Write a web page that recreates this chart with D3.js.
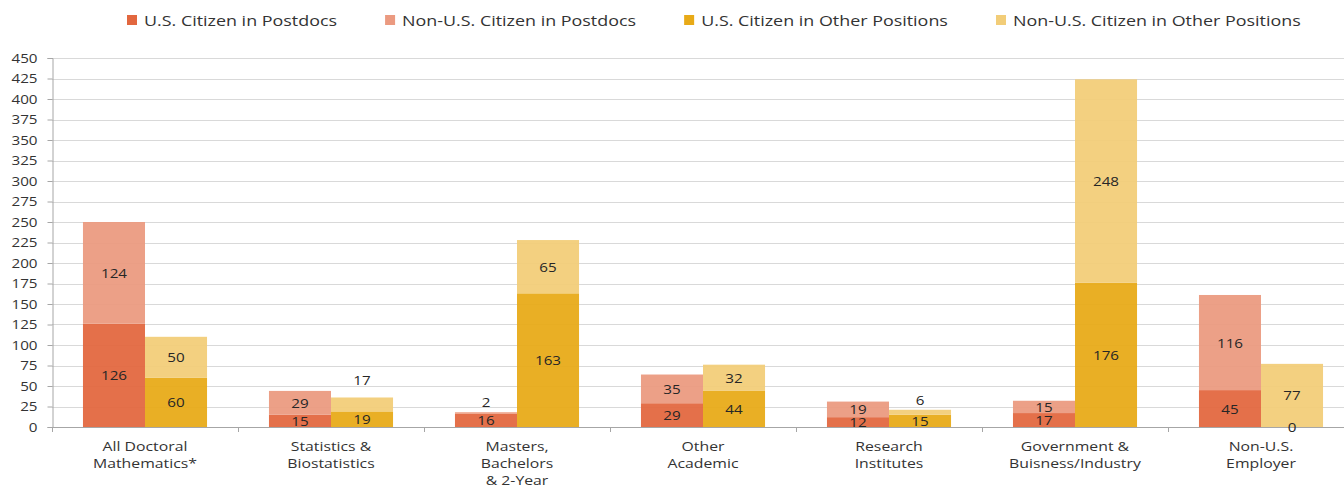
<!DOCTYPE html>
<html>
<head>
<meta charset="utf-8">
<script src="https://cdn.jsdelivr.net/npm/d3@7"></script>
<style>
  body { margin: 0; background: #fff; }
  svg { font-family: "Open Sans", "Noto Sans", sans-serif; }
</style>
</head>
<body>
<svg id="chart" width="1344" height="486"></svg>
<script>
// categories (multi-line labels)
const categories = [
  ['All Doctoral', 'Mathematics*'],
  ['Statistics &', 'Biostatistics'],
  ['Masters,', 'Bachelors', '& 2-Year'],
  ['Other', 'Academic'],
  ['Research', 'Institutes'],
  ['Government &', 'Buisness/Industry'],
  ['Non-U.S.', 'Employer']
]

const usPostdoc = [126, 15, 16, 29, 12, 17, 45]
const nonUsPostdoc = [124, 29, 2, 35, 19, 15, 116]
const usOther = [60, 19, 163, 44, 15, 176, 0]
const nonUsOther = [50, 17, 65, 32, 6, 248, 77]

const seriesNames = [
  'U.S. Citizen in Postdocs',
  'Non-U.S. Citizen in Postdocs',
  'U.S. Citizen in Other Positions',
  'Non-U.S. Citizen in Other Positions'
]
const colors = ['#E2673F', '#EB9A80', '#E8AA17', '#F2CD78']

const yTicks = d3.range(0, 451, 25)

const svg = d3.select('#chart')
const margin = { left: 52, right: -10, top: 58, bottom: 59 }
const W = 1344, H = 486
// the original picture is a bit wider than tall, text included
const STRETCH = 1.17

// widen a text horizontally around its own anchor point
function stretch (sel) {
  sel.each(function () {
    const t = d3.select(this)
    const tx = +t.attr('x') || 0
    const ty = +t.attr('y') || 0
    t.attr('transform', `translate(${tx},${ty}) scale(${STRETCH},1) translate(${-tx},${-ty})`)
  })
}

const x = d3.scaleBand()
  .domain(d3.range(categories.length))
  .range([margin.left, W - margin.right])
  .paddingInner(0.333)
  .paddingOuter(0.1665)

const xStep = d3.scaleBand()
  .domain(d3.range(categories.length))
  .range([margin.left, W - margin.right])

const y = d3.scaleLinear().domain([0, 450]).range([H - margin.bottom, margin.top])

// gridlines
svg.append('g')
  .selectAll('line')
  .data(yTicks.filter(d => d > 0))
  .join('line')
  .attr('x1', margin.left)
  .attr('x2', W)
  .attr('y1', d => Math.round(y(d)) + 0.5)
  .attr('y2', d => Math.round(y(d)) + 0.5)
  .attr('stroke', '#d9d9d9')

// y axis
const yAxis = svg.append('g')
  .attr('transform', `translate(${margin.left + 0.5},0)`)
  .call(d3.axisLeft(y).tickValues(yTicks).tickSize(5).tickPadding(10))
yAxis.select('.domain').attr('stroke', '#a6a6a6')
yAxis.selectAll('.tick line').attr('stroke', '#a6a6a6')
yAxis.selectAll('.tick text')
  .attr('font-size', 13)
  .attr('fill', '#333')
  .attr('font-family', '"Open Sans", sans-serif')
  .attr('transform', function () {
    const tx = +d3.select(this).attr('x')
    return `translate(${tx},0) scale(${STRETCH},1) translate(${-tx},0)`
  })

// stacks
const stacks = [
  { offsetIdx: 0, parts: [usPostdoc, nonUsPostdoc], colorIdx: [0, 1] },
  { offsetIdx: 1, parts: [usOther, nonUsOther], colorIdx: [2, 3] }
]

const bw = x.bandwidth() / 2
const segs = []
stacks.forEach(s => {
  categories.forEach((c, i) => {
    let base = 0
    s.parts.forEach((arr, k) => {
      segs.push({
        cat: i,
        side: s.offsetIdx,
        y0: base,
        y1: base + arr[i],
        v: arr[i],
        color: colors[s.colorIdx[k]],
        top: k === s.parts.length - 1,
        series: s.colorIdx[k]
      })
      base += arr[i]
    })
  })
})

svg.append('g')
  .selectAll('rect')
  .data(segs)
  .join('rect')
  .attr('x', d => x(d.cat) + d.side * bw)
  .attr('width', bw)
  .attr('y', d => y(d.y1))
  .attr('height', d => y(d.y0) - y(d.y1))
  .attr('fill', d => d.color)
  .attr('fill-opacity', 0.94)

// x axis
svg.append('line')
  .attr('x1', margin.left)
  .attr('x2', W)
  .attr('y1', y(0) + 0.5)
  .attr('y2', y(0) + 0.5)
  .attr('stroke', '#a6a6a6')

svg.append('g')
  .selectAll('line')
  .data(d3.range(categories.length + 1))
  .join('line')
  .attr('x1', d => Math.round(margin.left + d * xStep.step()) + 0.5)
  .attr('x2', d => Math.round(margin.left + d * xStep.step()) + 0.5)
  .attr('y1', y(0))
  .attr('y2', y(0) + 5)
  .attr('stroke', '#a6a6a6')

// category labels
const catText = svg.append('g')
  .selectAll('text')
  .data(categories)
  .join('text')
  .attr('x', (d, i) => xStep(i) + xStep.bandwidth() / 2)
  .attr('y', y(0) + 24)
  .attr('text-anchor', 'middle')
  .attr('font-size', 13.5)
  .attr('fill', '#333')
catText.selectAll('tspan')
  .data(d => d)
  .join('tspan')
  .attr('x', function () { return this.parentNode.getAttribute('x') })
  .attr('dy', (d, i) => i === 0 ? 0 : 17.2)
  .text(d => d)
stretch(catText)

// value labels
const valText = svg.append('g')
  .selectAll('text')
  .data(segs)
  .join('text')
  .attr('x', d => x(d.cat) + d.side * bw + bw / 2)
  .attr('y', d => {
    const small = d.top && (d.v < 10 || (d.series === 3 && d.v < 20))
    if (small) return y(d.y1) - (d.v < 10 ? 5 : 12)
    return (y(d.y0) + y(d.y1)) / 2 + 5
  })
  .attr('text-anchor', 'middle')
  .attr('font-size', 13)
  .attr('fill', '#262626')
  .text(d => d.v)
stretch(valText)

// legend
const legend = svg.append('g').attr('transform', 'translate(127,20)')
let lx = 0
seriesNames.forEach((name, i) => {
  const g = legend.append('g').attr('transform', `translate(${lx},0)`)
  g.append('rect')
    .attr('x', 0).attr('y', -5)
    .attr('width', 10).attr('height', 10)
    .attr('fill', colors[i])
  const t = g.append('text')
    .attr('x', 17).attr('y', 5.5)
    .attr('font-size', 15.3)
    .attr('fill', '#333')
    .text(name)
  const len = t.node().getComputedTextLength() * STRETCH
  t.attr('transform', `translate(17,0) scale(${STRETCH},1) translate(-17,0)`)
  lx += 17 + len + 48
})
</script>
</body>
</html>
